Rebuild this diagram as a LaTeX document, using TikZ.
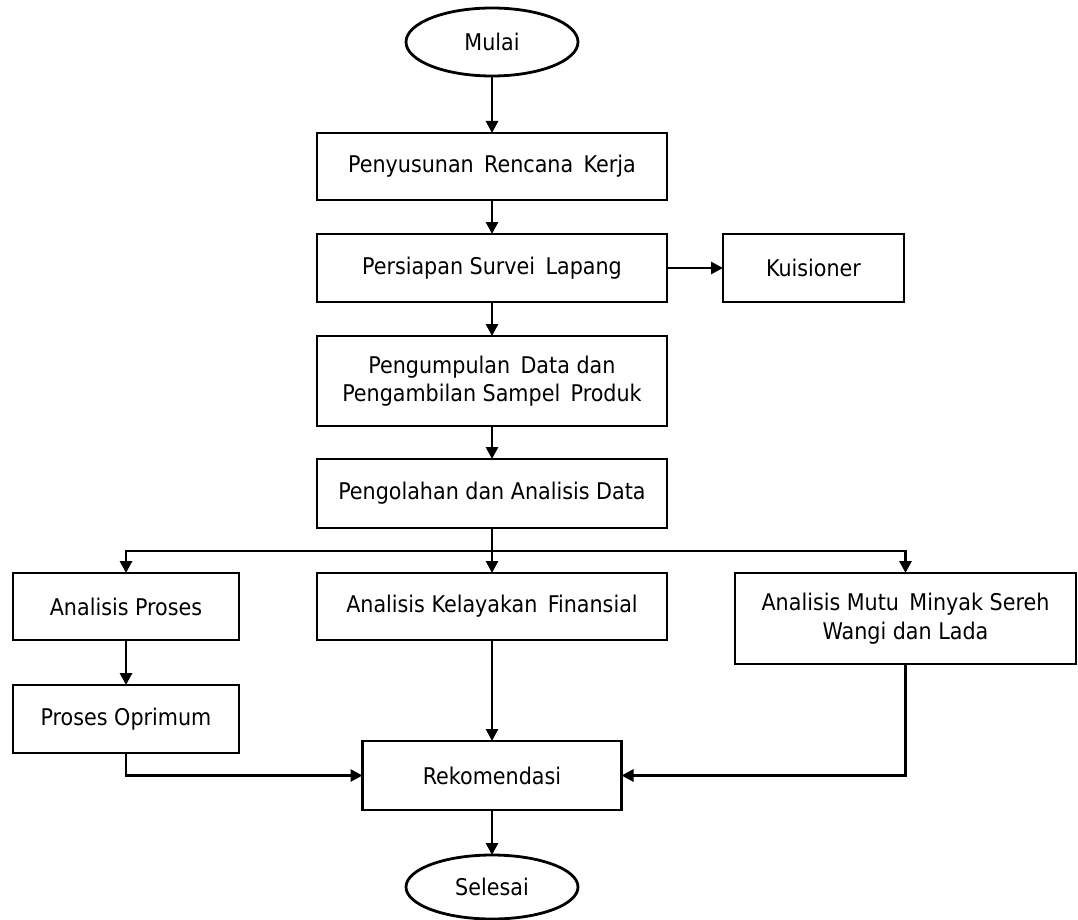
\documentclass[tikz,border=0pt]{standalone}
\usepackage{fontspec}
\setmainfont{DejaVu Sans Condensed}
\usetikzlibrary{shapes.geometric,arrows.meta}
\begin{document}
\begin{tikzpicture}[x=1pt,y=-1pt,
  every node/.style={font=\fontsize{23}{28.5}\selectfont, inner sep=0pt, outer sep=0pt},
  box/.style={draw, line width=2.8pt, rectangle, align=center},
  oval/.style={draw, line width=2.8pt, ellipse},
  arr/.style={line width=2.8pt, -{Triangle[length=12pt,width=12pt]}},
  ln/.style={line width=2.8pt}]
\useasboundingbox (0,0) rectangle (1078,920);
\node[oval, minimum width=172, minimum height=68] (mulai) at (492,42) {Mulai};
\node[box, minimum width=350, minimum height=67] (b1) at (492,166.5) {Penyusunan\, Rencana\, Kerja};
\node[box, minimum width=350, minimum height=68] (b2) at (492,268) {Persiapan Survei\, Lapang};
\node[box, minimum width=181, minimum height=68] (kuis) at (813.5,268) {Kuisioner};
\node[box, minimum width=350, minimum height=90] (b3) at (492,381) {Pengumpulan\, Data dan\\Pengambilan Sampel\, Produk};
\node[box, minimum width=350, minimum height=69] (b4) at (492,493.5) {Pengolahan dan Analisis Data};
\node[box, minimum width=226, minimum height=67] (ap) at (126,606.5) {Analisis Proses};
\node[box, minimum width=350, minimum height=67] (akf) at (492,606.5) {Analisis Kelayakan\, Finansial};
\node[box, minimum width=341, minimum height=91] (amms) at (905.5,618.5) {Analisis Mutu\, Minyak Sereh\\Wangi dan Lada};
\node[box, minimum width=226, minimum height=68] (po) at (126,719) {Proses Oprimum};
\node[box, minimum width=259, minimum height=69] (rek) at (492,775.5) {Rekomendasi};
\node[oval, minimum width=172, minimum height=64] (selesai) at (492,887) {Selesai};
\coordinate (br) at (492,551);
\draw[arr] (mulai) -- (b1);
\draw[arr] (b1) -- (b2);
\draw[arr] (b2) -- (kuis);
\draw[arr] (b2) -- (b3);
\draw[arr] (b3) -- (b4);
\draw[ln] (b4.south) -- (br);
\draw[arr] (br) -| (ap.north);
\draw[arr] (br) -| (amms.north);
\draw[arr] (br) -- (akf.north);
\draw[arr] (ap) -- (po);
\draw[arr] (akf) -- (rek);
\draw[arr] (po.south) |- (rek.west);
\draw[arr] (amms.south) |- (rek.east);
\draw[arr] (rek) -- (selesai);
\end{tikzpicture}
\end{document}
